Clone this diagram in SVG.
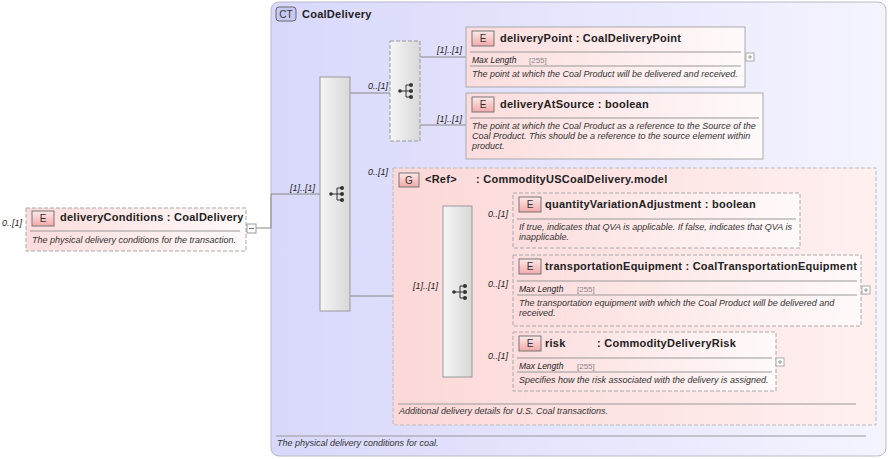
<svg xmlns="http://www.w3.org/2000/svg" width="890" height="459" viewBox="0 0 890 459">
<defs>
<linearGradient id="ct" x1="0" y1="0" x2="1" y2="0"><stop offset="0" stop-color="#d8d8fb"/><stop offset="1" stop-color="#f4f4ff"/></linearGradient>
<linearGradient id="el" x1="0" y1="0" x2="1" y2="0"><stop offset="0" stop-color="#fcdcdc"/><stop offset="1" stop-color="#fffafa"/></linearGradient>
<linearGradient id="grp" x1="0" y1="0" x2="1" y2="0"><stop offset="0" stop-color="#fcd8d8"/><stop offset="1" stop-color="#fff0f0"/></linearGradient>
<linearGradient id="seq" x1="0" y1="0" x2="1" y2="0"><stop offset="0" stop-color="#f6f6f6"/><stop offset="1" stop-color="#d8d8d8"/></linearGradient>
<linearGradient id="badge" x1="0" y1="0" x2="0" y2="1"><stop offset="0" stop-color="#fdeaea"/><stop offset="1" stop-color="#f3a8a8"/></linearGradient>
<g id="seqicon"><line x1="-6" y1="0" x2="0" y2="0" stroke="#333"/><circle cx="-6" cy="0" r="1.8" fill="#333"/><path d="M0,-6 V6 M0,-6 H4 M0,0 H4 M0,6 H4" stroke="#333" fill="none"/><circle cx="5" cy="-6" r="2" fill="#333"/><circle cx="5" cy="0" r="2" fill="#333"/><circle cx="5" cy="6" r="2" fill="#333"/></g>
</defs>
<style>
text{font-family:"Liberation Sans",Arial,sans-serif;}
.t{font-size:11px;font-weight:bold;fill:#222;letter-spacing:0.25px}
.d{font-size:9px;font-style:italic;fill:#333}
.m{font-size:8.5px;font-style:italic;fill:#222}
.g{font-size:8px;fill:#888}
.c{font-size:9px;font-style:italic;fill:#222}
.el{fill:url(#el);stroke:#aaa;stroke-width:1}
.dash{stroke-dasharray:4,2}
.sep{stroke:#999;stroke-width:1}
.conn{stroke:#888;stroke-width:1;fill:none}
.bt{font-size:10px;fill:#333;text-anchor:middle}
</style>
<g id="ct-box">
<rect x="271" y="2" width="615" height="454" rx="8" fill="url(#ct)" stroke="#b8b8c8"/>
<rect x="276" y="7" width="20" height="14" rx="3" fill="#c8c8f4" stroke="#666"/>
<text x="286" y="18" class="bt">CT</text>
<text x="302" y="18" class="t">CoalDelivery</text>
<line x1="276" y1="436" x2="866" y2="436" class="sep"/>
<text x="277" y="446" class="d">The physical delivery conditions for coal.</text>
</g>
<g id="connectors">
<path class="conn" d="M256,228 H271 M271,194 H320 M350,93 H390 M420,57 H466 M420,125 H466 M350,296 H443 M472,221 H513 M472,290 H513 M472,362 H513"/>
<line x1="271" y1="194" x2="271" y2="228" stroke="#888"/>
</g>
<g id="deliveryConditions">
<text x="2" y="226" class="c">0..[1]</text>
<rect x="26" y="208" width="220" height="43" class="el dash"/>
<rect x="32" y="211" width="22" height="15" fill="url(#badge)" stroke="#777"/>
<text x="43" y="222" class="bt">E</text>
<text x="60" y="221" class="t">deliveryConditions : CoalDelivery</text>
<line x1="30" y1="231" x2="240" y2="231" class="sep"/>
<text x="32" y="243" class="d">The physical delivery conditions for the transaction.</text>
<rect x="247" y="224" width="9" height="9" fill="#fff" stroke="#999"/>
<line x1="249" y1="228.5" x2="254" y2="228.5" stroke="#777"/>
</g>
<g id="seq1">
<text x="290" y="191" class="c">[1]..[1]</text>
<rect x="320" y="77" width="30" height="234" fill="url(#seq)" stroke="#999"/>
<use href="#seqicon" transform="translate(337,194)"/>
</g>
<g id="choice">
<text x="368" y="89" class="c">0..[1]</text>
<rect x="390" y="41" width="30" height="100" fill="url(#seq)" stroke="#999" class="dash"/>
<use href="#seqicon" transform="translate(406,91)"/>
</g>
<g id="deliveryPoint">
<text x="437" y="53" class="c">[1]..[1]</text>
<rect x="466" y="27" width="279" height="60" class="el"/>
<rect x="472" y="31" width="22" height="15" fill="url(#badge)" stroke="#777"/>
<text x="483" y="42" class="bt">E</text>
<text x="500" y="42" class="t">deliveryPoint : CoalDeliveryPoint</text>
<line x1="470" y1="52" x2="741" y2="52" class="sep"/>
<text x="472" y="63" class="m">Max Length</text><text x="529" y="63" class="g">[255]</text>
<line x1="470" y1="66" x2="741" y2="66" class="sep"/>
<text x="472" y="77" class="d">The point at which the Coal Product will be delivered and received.</text>
<rect x="746" y="53" width="8" height="8" fill="#fff" stroke="#aaa"/>
<path d="M748,57 H752 M750,55 V59" stroke="#999"/>
</g>
<g id="deliveryAtSource">
<text x="437" y="122" class="c">[1]..[1]</text>
<rect x="466" y="93" width="297" height="66" class="el"/>
<rect x="472" y="97" width="22" height="15" fill="url(#badge)" stroke="#777"/>
<text x="483" y="108" class="bt">E</text>
<text x="500" y="108" class="t">deliveryAtSource : boolean</text>
<line x1="470" y1="118" x2="759" y2="118" class="sep"/>
<text x="472" y="129" class="d">The point at which the Coal Product as a reference to the Source of the</text>
<text x="472" y="139" class="d">Coal Product. This should be a reference to the source element within</text>
<text x="472" y="149" class="d">product.</text>
</g>
<g id="group">
<text x="368" y="175" class="c">0..[1]</text>
<rect x="393" y="168" width="483" height="257" fill="url(#grp)" stroke="#bbb" class="dash"/>
<rect x="399" y="173" width="20" height="14" fill="url(#badge)" stroke="#777"/>
<text x="409" y="184" class="bt">G</text>
<text x="425" y="183" class="t">&lt;Ref&gt;</text>
<text x="476" y="183" class="t">: CommodityUSCoalDelivery.model</text>
<line x1="398" y1="404" x2="856" y2="404" class="sep"/>
<text x="399" y="414" class="d">Additional delivery details for U.S. Coal transactions.</text>
</g>
<g id="seq2">
<text x="413" y="289" class="c">[1]..[1]</text>
<rect x="443" y="206" width="29" height="171" fill="url(#seq)" stroke="#999"/>
<use href="#seqicon" transform="translate(460,292)"/>
</g>
<g id="quantityVariationAdjustment">
<text x="488" y="217" class="c">0..[1]</text>
<rect x="513" y="193" width="287" height="55" class="el dash"/>
<rect x="519" y="197" width="22" height="15" fill="url(#badge)" stroke="#777"/>
<text x="530" y="208" class="bt">E</text>
<text x="545" y="208" class="t">quantityVariationAdjustment : boolean</text>
<line x1="517" y1="219" x2="796" y2="219" class="sep"/>
<text x="519" y="230" class="d">If true, indicates that QVA is applicable. If false, indicates that QVA is</text>
<text x="519" y="240" class="d">inapplicable.</text>
</g>
<g id="transportationEquipment">
<text x="488" y="287" class="c">0..[1]</text>
<rect x="513" y="255" width="348" height="71" class="el dash"/>
<rect x="519" y="259" width="22" height="15" fill="url(#badge)" stroke="#777"/>
<text x="530" y="270" class="bt">E</text>
<text x="545" y="270" class="t">transportationEquipment : CoalTransportationEquipment</text>
<line x1="517" y1="281" x2="857" y2="281" class="sep"/>
<text x="519" y="292" class="m">Max Length</text><text x="577" y="292" class="g">[255]</text>
<line x1="517" y1="295" x2="857" y2="295" class="sep"/>
<text x="519" y="306" class="d">The transportation equipment with which the Coal Product will be delivered and</text>
<text x="519" y="316" class="d">received.</text>
<rect x="862" y="286" width="8" height="8" fill="#fff" stroke="#aaa"/>
<path d="M864,290 H868 M866,288 V292" stroke="#999"/>
</g>
<g id="risk">
<text x="488" y="359" class="c">0..[1]</text>
<rect x="513" y="332" width="263" height="59" class="el dash"/>
<rect x="519" y="336" width="22" height="15" fill="url(#badge)" stroke="#777"/>
<text x="530" y="347" class="bt">E</text>
<text x="545" y="347" class="t">risk</text>
<text x="597" y="347" class="t">: CommodityDeliveryRisk</text>
<line x1="517" y1="358" x2="772" y2="358" class="sep"/>
<text x="519" y="369" class="m">Max Length</text><text x="577" y="369" class="g">[255]</text>
<line x1="517" y1="372" x2="772" y2="372" class="sep"/>
<text x="519" y="383" class="d">Specifies how the risk associated with the delivery is assigned.</text>
<rect x="776" y="358" width="8" height="8" fill="#fff" stroke="#aaa"/>
<path d="M778,362 H782 M780,360 V364" stroke="#999"/>
</g>
</svg>
